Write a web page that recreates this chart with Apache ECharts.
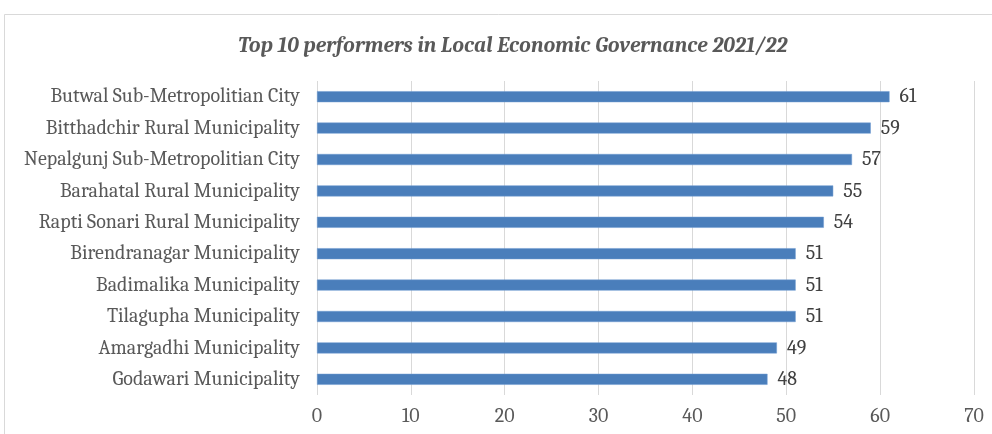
<!DOCTYPE html>
<html><head><meta charset="utf-8">
<script src="https://cdn.jsdelivr.net/npm/echarts@6/dist/echarts.min.js"></script>
<style>html,body{margin:0;padding:0;background:#fff}#c{width:992px;height:434px}</style>
</head><body><div id="c"></div>
<script>
const titleText = 'Top 10 performers in Local Economic Governance 2021/22';
const categories = ['Butwal Sub-Metropolitian City','Bitthadchir Rural Municipality','Nepalgunj Sub-Metropolitian City','Barahatal Rural Municipality','Rapti Sonari Rural Municipality','Birendranagar Municipality','Badimalika Municipality','Tilagupha Municipality','Amargadhi Municipality','Godawari Municipality'];
const values = [61,59,57,55,54,51,51,51,49,48];
const xTicks = [0,10,20,30,40,50,60,70];

const font = 'Cambria, "DejaVu Serif", serif';
const chart = echarts.init(document.getElementById('c'), null, {renderer:'canvas'});
chart.setOption({
  animation:false,
  backgroundColor:'#fff',
  title:{text:titleText,left:233,top:30,textStyle:{fontFamily:font,fontStyle:'italic',fontWeight:'bold',fontSize:21.5,color:'#595959'}},
  graphic:[{type:'rect',shape:{x:4.5,y:14.5,width:1200,height:600},style:{fill:'none',stroke:'#d9d9d9',lineWidth:1},silent:true}],
  grid:{left:317,right:18,top:81,bottom:39,containLabel:false},
  xAxis:{type:'value',min:xTicks[0],max:xTicks[xTicks.length-1],interval:10,
    axisLine:{show:false},axisTick:{show:false},
    splitLine:{show:true,lineStyle:{color:'#d9d9d9',width:1}},
    axisLabel:{fontFamily:font,fontSize:20,color:'#595959',margin:11}},
  yAxis:{type:'category',data:categories,inverse:true,
    axisLine:{show:false},axisTick:{show:false},
    axisLabel:{fontFamily:font,fontSize:20,color:'#595959',margin:17}},
  series:[{type:'bar',data:values,barWidth:11,
    itemStyle:{color:'#4a7ebb',borderColor:'#6f9bd0',borderWidth:0.5},
    label:{show:true,position:'right',distance:10,fontFamily:font,fontSize:20,color:'#404040'}}]
});
</script></body></html>
